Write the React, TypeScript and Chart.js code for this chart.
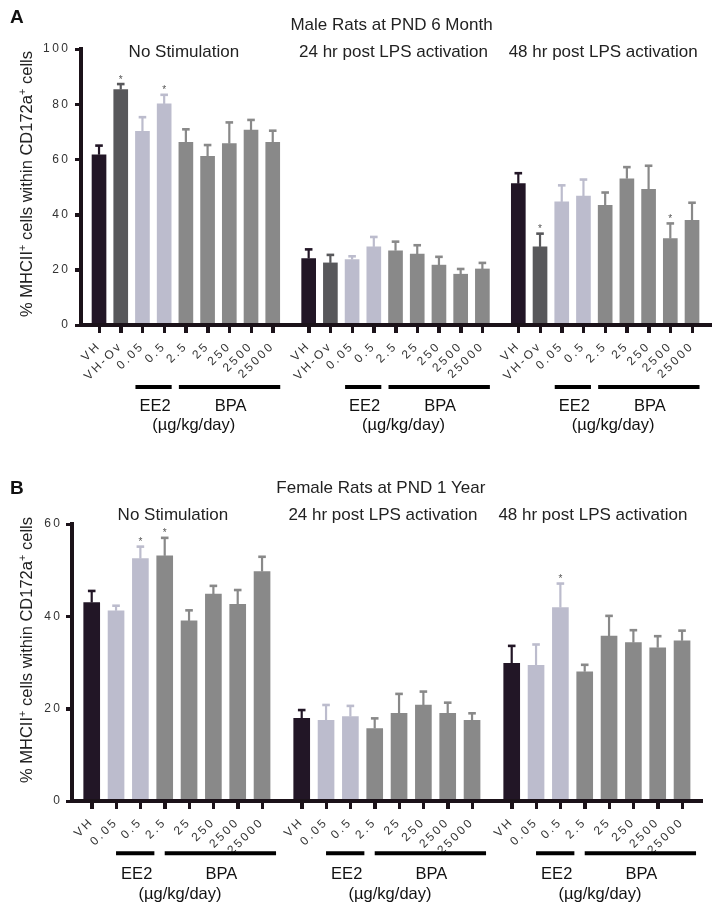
import React, { useEffect, useRef } from 'react';
import { Chart, registerables } from 'chart.js';

Chart.register(...registerables);

const FONT = '"Liberation Sans", Arial, Helvetica, sans-serif';
const AXIS = '#1b1219';
const C_VH = '#221626';
const C_OV = '#58585b';
const C_EE2 = '#bcbccd';
const C_BPA = '#898989';

// ---------- Panel A : Male Rats at PND 6 Month ----------
const titleA = 'Male Rats at PND 6 Month';
const catsA = ['VH', 'VH-Ov', '0.05', '0.5', '2.5', '25', '250', '2500', '25000'];
const colorsA = [C_VH, C_OV, C_EE2, C_EE2, C_BPA, C_BPA, C_BPA, C_BPA, C_BPA];
const noStimA = [61.7, 85.3, 70.2, 80.1, 66.2, 61.1, 65.7, 70.6, 66.2];
const noStimErrA = [3.3, 2.0, 5.1, 3.3, 4.7, 4.1, 7.7, 3.7, 4.2];
const noStimStarsA = [1, 3];
const lps24A = [24.1, 22.5, 23.7, 28.3, 26.9, 25.7, 21.7, 18.4, 20.3];
const lps24ErrA = [3.3, 2.9, 1.2, 3.6, 3.3, 3.2, 3.0, 1.9, 2.2];
const lps24StarsA: number[] = [];
const lps48A = [51.2, 28.3, 44.6, 46.7, 43.4, 53.0, 49.2, 31.3, 37.9];
const lps48ErrA = [3.8, 4.8, 6.0, 6.0, 4.6, 4.2, 8.5, 5.5, 6.4];
const lps48StarsA = [1, 7];
const yTicksA = [0, 20, 40, 60, 80, 100];

// ---------- Panel B : Female Rats at PND 1 Year ----------
const titleB = 'Female Rats at PND 1 Year';
const catsB = ['VH', '0.05', '0.5', '2.5', '25', '250', '2500', '25000'];
const colorsB = [C_VH, C_EE2, C_EE2, C_BPA, C_BPA, C_BPA, C_BPA, C_BPA];
const noStimB = [43.0, 41.2, 52.5, 53.1, 39.0, 44.8, 42.6, 49.7];
const noStimErrB = [2.5, 1.1, 2.6, 3.9, 2.3, 1.8, 3.1, 3.2];
const noStimStarsB = [2, 3];
const lps24B = [17.9, 17.5, 18.3, 15.7, 19.0, 20.8, 19.0, 17.5];
const lps24ErrB = [1.8, 3.3, 2.3, 2.2, 4.2, 2.9, 2.3, 1.5];
const lps24StarsB: number[] = [];
const lps48B = [29.8, 29.4, 41.9, 28.0, 35.7, 34.3, 33.2, 34.7];
const lps48ErrB = [3.8, 4.5, 5.2, 1.5, 4.4, 2.7, 2.5, 2.2];
const lps48StarsB = [2];
const yTicksB = [0, 20, 40, 60];

const condTitles = ['No Stimulation', '24 hr post LPS activation', '48 hr post LPS activation'];
const yTitleParts = ['% MHCII', '+', ' cells within CD172a', '+', ' cells'];

type Group = { title: string; values: number[]; errs: number[]; stars: number[] };

type Panel = {
  letter: string;
  title: string;
  cats: string[];
  colors: string[];
  groups: Group[];
  yTicks: number[];
  ee2: [number, number];
  bpa: [number, number];
  gap: number;
  xMin: number;
  xMaxPad: number;
  barW: number;
  width: number;
  height: number;
  padTop: number;
  padRight: number;
  yAxisW: number;
  xAxisH: number;
  yLabelPad: number;
  letterY: number;
  titleY: number;
  titleOff: number;
  subY: number;
  subOff: number;
  yTitleX: number;
  yTitleY: number;
  lineY: number;
  lineStart: number;
  lineEnd: number;
  labelY: number;
  unitY: number;
};

const panelA: Panel = {
  letter: 'A',
  title: titleA,
  cats: catsA,
  colors: colorsA,
  groups: [
    { title: condTitles[0], values: noStimA, errs: noStimErrA, stars: noStimStarsA },
    { title: condTitles[1], values: lps24A, errs: lps24ErrA, stars: lps24StarsA },
    { title: condTitles[2], values: lps48A, errs: lps48ErrA, stars: lps48StarsA },
  ],
  yTicks: yTicksA,
  ee2: [2, 3],
  bpa: [4, 8],
  gap: 1.655,
  xMin: -0.83,
  xMaxPad: 0.874,
  barW: 14,
  width: 721,
  height: 450,
  padTop: 49,
  padRight: 10,
  yAxisW: 81,
  xAxisH: 125,
  yLabelPad: 4.5,
  letterY: 23,
  titleY: 30,
  titleOff: -4,
  subY: 56.5,
  subOff: -2,
  yTitleX: 27.5,
  yTitleY: 184,
  lineY: 387,
  lineStart: -7,
  lineEnd: 7.5,
  labelY: 411,
  unitY: 429.5,
};

const panelB: Panel = {
  letter: 'B',
  title: titleB,
  cats: catsB,
  colors: colorsB,
  groups: [
    { title: condTitles[0], values: noStimB, errs: noStimErrB, stars: noStimStarsB },
    { title: condTitles[1], values: lps24B, errs: lps24ErrB, stars: lps24StarsB },
    { title: condTitles[2], values: lps48B, errs: lps48ErrB, stars: lps48StarsB },
  ],
  yTicks: yTicksB,
  ee2: [1, 2],
  bpa: [3, 7],
  gap: 1.63,
  xMin: -0.81,
  xMaxPad: 0.82,
  barW: 16,
  width: 721,
  height: 460,
  padTop: 74,
  padRight: 19,
  yAxisW: 72,
  xAxisH: 109,
  yLabelPad: 3.5,
  letterY: 44,
  titleY: 43.3,
  titleOff: -6,
  subY: 70,
  subOff: -4,
  yTitleX: 27.5,
  yTitleY: 200,
  lineY: 403.3,
  lineStart: 0,
  lineEnd: 14,
  labelY: 429.3,
  unitY: 449,
};

function makeChart(canvas: HTMLCanvasElement, p: Panel) {
  const n = p.cats.length;
  const stride = n - 1 + p.gap;
  const pos = (g: number, i: number) => g * stride + i;
  const tickVals: number[] = [];
  const tickLabels: string[] = [];
  p.groups.forEach((_, gi) =>
    p.cats.forEach((c, i) => {
      tickVals.push(pos(gi, i));
      tickLabels.push(c);
    })
  );
  const xMax = pos(p.groups.length - 1, n - 1) + p.xMaxPad;
  const yMax = p.yTicks[p.yTicks.length - 1];

  const decor = {
    id: 'decor',
    afterDatasetsDraw(chart: any) {
      const ctx = chart.ctx as any;
      const xs = chart.scales.x;
      const y = chart.scales.y;
      const area = chart.chartArea;
      ctx.save();
      // error bars
      chart.data.datasets.forEach((_: any, di: number) => {
        const meta = chart.getDatasetMeta(di);
        const g = p.groups[di];
        meta.data.forEach((bar: any, i: number) => {
          const yb = y.getPixelForValue(g.values[i]);
          const yt = y.getPixelForValue(g.values[i] + g.errs[i]);
          ctx.strokeStyle = p.colors[i];
          ctx.lineWidth = 2.2;
          ctx.beginPath();
          ctx.moveTo(bar.x, yb);
          ctx.lineTo(bar.x, yt);
          ctx.stroke();
          ctx.lineWidth = 2.6;
          ctx.beginPath();
          ctx.moveTo(bar.x - 3.8, yt);
          ctx.lineTo(bar.x + 3.8, yt);
          ctx.stroke();
        });
      });
      // axis tick marks (at every scale tick)
      ctx.strokeStyle = AXIS;
      ctx.lineWidth = 3;
      ctx.lineCap = 'butt';
      ctx.beginPath();
      xs.ticks.forEach((_t: any, i: number) => {
        const px = Math.round(xs.getPixelForTick(i)) + 0.5;
        ctx.moveTo(px, area.bottom);
        ctx.lineTo(px, area.bottom + 8);
      });
      y.ticks.forEach((_t: any, i: number) => {
        const py = Math.round(y.getPixelForTick(i)) + 0.5;
        ctx.moveTo(area.left, py);
        ctx.lineTo(area.left - 6, py);
      });
      ctx.stroke();
      ctx.restore();
      ctx.letterSpacing = '2.5px';
    },
    afterDraw(chart: any) {
      const ctx = chart.ctx as any;
      ctx.letterSpacing = '0px';
      const xs = chart.scales.x;
      const y = chart.scales.y;
      ctx.save();
      // asterisks
      ctx.fillStyle = '#555';
      ctx.font = `10px ${FONT}`;
      ctx.textAlign = 'center';
      ctx.textBaseline = 'alphabetic';
      p.groups.forEach((g, gi) => {
        g.stars.forEach((i) => {
          const px = xs.getPixelForValue(pos(gi, i));
          const yt = y.getPixelForValue(g.values[i] + g.errs[i]);
          ctx.fillText('*', px, yt - 1.5);
        });
      });
      // panel letter
      ctx.fillStyle = '#111';
      ctx.textAlign = 'left';
      ctx.font = `bold 19px ${FONT}`;
      ctx.fillText(p.letter, 10, p.letterY);
      // main title
      ctx.font = `17px ${FONT}`;
      ctx.fillStyle = '#222';
      ctx.textAlign = 'center';
      const g2c = (xs.getPixelForValue(pos(1, 0)) + xs.getPixelForValue(pos(1, n - 1))) / 2;
      ctx.fillText(p.title, g2c + p.titleOff, p.titleY);
      // per-group decorations
      p.groups.forEach((g, gi) => {
        const px = (i: number) => xs.getPixelForValue(pos(gi, i));
        const gc = (px(0) + px(n - 1)) / 2;
        ctx.font = `17px ${FONT}`;
        ctx.fillStyle = '#222';
        ctx.fillText(g.title, gc + p.subOff, p.subY);
        const e0 = px(p.ee2[0]) + p.lineStart;
        const e1 = px(p.ee2[1]) + p.lineEnd;
        const b0 = px(p.bpa[0]) + p.lineStart;
        const b1 = px(p.bpa[1]) + p.lineEnd;
        ctx.strokeStyle = '#000';
        ctx.lineWidth = 4;
        ctx.beginPath();
        ctx.moveTo(e0, p.lineY);
        ctx.lineTo(e1, p.lineY);
        ctx.moveTo(b0, p.lineY);
        ctx.lineTo(b1, p.lineY);
        ctx.stroke();
        const ec = (e0 + e1) / 2 + 1.5;
        const bc = (b0 + b1) / 2 + 1;
        ctx.font = `16.5px ${FONT}`;
        ctx.fillStyle = '#111';
        ctx.fillText('EE2', ec, p.labelY);
        ctx.fillText('BPA', bc, p.labelY);
        ctx.fillText('(µg/kg/day)', (ec + bc) / 2 + 1, p.unitY);
      });
      // y axis title (with superscripts)
      ctx.translate(p.yTitleX, p.yTitleY);
      ctx.rotate(-Math.PI / 2);
      ctx.textBaseline = 'middle';
      ctx.textAlign = 'left';
      const big = `16.5px ${FONT}`;
      const small = `11px ${FONT}`;
      let total = 0;
      yTitleParts.forEach((t, k) => {
        ctx.font = k % 2 === 1 ? small : big;
        total += ctx.measureText(t).width;
      });
      let cx = -total / 2;
      ctx.fillStyle = '#222';
      yTitleParts.forEach((t, k) => {
        const sup = k % 2 === 1;
        ctx.font = sup ? small : big;
        ctx.fillText(t, cx, sup ? -5 : 0);
        cx += ctx.measureText(t).width;
      });
      ctx.restore();
    },
  };

  return new Chart(canvas, {
    type: 'bar',
    data: {
      datasets: p.groups.map((g, gi) => ({
        label: g.title,
        data: g.values.map((v, i) => ({ x: pos(gi, i), y: v })),
        backgroundColor: p.colors,
        borderWidth: 0,
        barThickness: p.barW,
        maxBarThickness: p.barW,
        grouped: false,
      })),
    } as any,
    options: {
      animation: false,
      responsive: false,
      devicePixelRatio: 1,
      layout: { padding: { top: p.padTop, right: p.padRight, left: 0, bottom: 0 } },
      plugins: { legend: { display: false }, tooltip: { enabled: false } },
      scales: {
        x: {
          type: 'linear',
          offset: false,
          min: p.xMin,
          max: xMax,
          afterBuildTicks: (s: any) => {
            s.ticks = tickVals.map((v) => ({ value: v }));
          },
          afterFit: (s: any) => {
            s.height = p.xAxisH;
          },
          grid: {
            offset: false,
            drawOnChartArea: false,
            drawTicks: true,
            tickLength: 8,
            tickWidth: 3,
            tickColor: AXIS,
            color: AXIS,
          },
          border: { display: true, width: 4, color: AXIS, z: 1 },
          ticks: {
            z: 1,
            autoSkip: false,
            minRotation: 45,
            maxRotation: 45,
            padding: 6,
            color: '#333',
            font: { family: FONT, size: 12 },
            callback: (_v: any, i: number) => tickLabels[i],
          },
        },
        y: {
          type: 'linear',
          min: 0,
          max: yMax,
          afterBuildTicks: (s: any) => {
            s.ticks = p.yTicks.map((v) => ({ value: v }));
          },
          afterFit: (s: any) => {
            s.width = p.yAxisW;
          },
          grid: {
            drawOnChartArea: false,
            drawTicks: true,
            tickLength: 6,
            tickWidth: 3,
            tickColor: AXIS,
            color: AXIS,
          },
          border: { display: true, width: 4, color: AXIS, z: 1 },
          ticks: {
            z: 1,
            padding: p.yLabelPad,
            color: '#333',
            font: { family: FONT, size: 12 },
            callback: (v: any) => String(v),
          },
        },
      },
    } as any,
    plugins: [decor as any],
  });
}

function PanelChart({ panel, top }: { panel: Panel; top: number }) {
  const ref = useRef<HTMLCanvasElement | null>(null);
  useEffect(() => {
    if (!ref.current) return;
    const chart = makeChart(ref.current, panel);
    return () => chart.destroy();
  }, [panel]);
  return (
    <canvas
      ref={ref}
      width={panel.width}
      height={panel.height}
      style={{ position: 'absolute', left: 0, top, width: panel.width, height: panel.height, display: 'block' }}
    />
  );
}

export default function App() {
  return (
    <div style={{ position: 'absolute', left: 0, top: 0, width: 721, height: 910, background: '#fff' }}>
      <PanelChart panel={panelA} top={0} />
      <PanelChart panel={panelB} top={450} />
    </div>
  );
}
